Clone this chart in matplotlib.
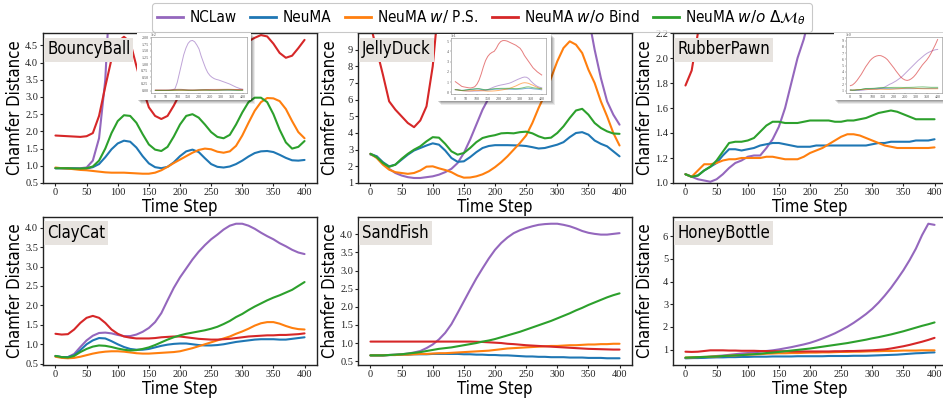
import numpy as np
import matplotlib
matplotlib.use("Agg")
import matplotlib.pyplot as plt
from matplotlib.patches import Rectangle
from matplotlib.lines import Line2D

plt.rcParams['font.family'] = ['Liberation Serif', 'DejaVu Serif']
plt.rcParams['mathtext.fontset'] = 'dejavusans'

# ---------------- data ----------------
steps = np.arange(0, 401, 10)

methods = ["NCLaw", "NeuMA", "NeuMA $\\it{w/}$ P.S.", "NeuMA $\\it{w/o}$ Bind",
           "NeuMA $\\it{w/o}$ $\\Delta\\mathcal{M}_\\theta$"]
colors = ["#9467bd", "#1f77b4", "#ff7f0e", "#d62728", "#2ca02c"]

# BouncyBall
bb_nclaw = [0.93, 0.93, 0.93, 0.93, 0.93, 0.95, 1.15, 1.8, 3.5, 7.0, 30, 65, 100, 135, 160, 178, 187, 189, 184, 172,
            157, 130, 107, 85, 68, 57, 50, 45, 42, 40, 37, 34, 31, 28, 25, 21, 17, 13, 10, 7, 5]
bb_neuma = [0.93, 0.93, 0.92, 0.92, 0.91, 0.92, 0.96, 1.05, 1.25, 1.48, 1.65, 1.73, 1.70, 1.53, 1.28, 1.07, 0.96, 0.93,
            0.97, 1.10, 1.28, 1.42, 1.47, 1.40, 1.22, 1.05, 0.97, 0.95, 0.98, 1.05, 1.15, 1.27, 1.37, 1.42, 1.43, 1.40,
            1.32, 1.23, 1.16, 1.15, 1.17]
bb_ps = [0.95, 0.93, 0.92, 0.90, 0.88, 0.87, 0.85, 0.83, 0.81, 0.80, 0.80, 0.80, 0.79, 0.78, 0.77, 0.77, 0.80, 0.87,
         0.97, 1.08, 1.18, 1.28, 1.38, 1.46, 1.50, 1.48, 1.41, 1.38, 1.42, 1.58, 1.88, 2.25, 2.60, 2.85, 2.97, 2.96,
         2.88, 2.65, 2.30, 1.98, 1.80]
bb_bind = [1.88, 1.87, 1.86, 1.85, 1.84, 1.86, 1.95, 2.45, 3.30, 4.10, 4.60, 4.75, 4.60, 3.90, 3.25, 2.70, 2.45, 2.36,
           2.45, 2.75, 3.10, 3.45, 3.75, 4.00, 4.20, 4.32, 4.40, 4.45, 4.50, 4.53, 4.56, 4.62, 4.72, 4.80, 4.76, 4.55,
           4.28, 4.14, 4.20, 4.42, 4.66]
bb_dm = [0.93, 0.93, 0.93, 0.92, 0.92, 0.93, 0.98, 1.15, 1.50, 1.95, 2.30, 2.47, 2.45, 2.25, 1.92, 1.62, 1.47, 1.43,
         1.55, 1.85, 2.20, 2.45, 2.50, 2.40, 2.20, 1.98, 1.84, 1.80, 1.90, 2.20, 2.55, 2.85, 2.98, 2.98, 2.85, 2.50,
         2.05, 1.68, 1.50, 1.55, 1.72]

# JellyDuck
jd_nclaw = [2.7, 2.6, 2.2, 1.85, 1.6, 1.45, 1.35, 1.3, 1.3, 1.35, 1.4, 1.5, 1.65, 1.85, 2.2, 2.8, 3.6, 4.5, 5.4, 6.1,
            6.7, 7.2, 7.6, 8.0, 8.5, 9.0, 9.8, 10.8, 11.8, 12.8, 13.6, 14.5, 15.0, 14.8, 13.5, 11.0, 9.0, 7.3, 5.9,
            5.1, 4.5]
jd_neuma = [2.75, 2.6, 2.25, 2.0, 2.1, 2.4, 2.7, 2.95, 3.1, 3.25, 3.38, 3.3, 2.95, 2.5, 2.27, 2.3, 2.55, 2.85, 3.1,
            3.22, 3.27, 3.27, 3.27, 3.26, 3.25, 3.22, 3.15, 3.07, 3.1, 3.2, 3.3, 3.45, 3.75, 4.0, 4.05, 3.9, 3.55, 3.35,
            3.2, 2.9, 2.6]
jd_ps = [2.75, 2.5, 2.1, 1.8, 1.65, 1.6, 1.55, 1.6, 1.75, 1.98, 2.0, 1.88, 1.78, 1.65, 1.45, 1.32, 1.33, 1.4, 1.52,
         1.7, 1.95, 2.25, 2.6, 3.0, 3.4, 3.85, 4.6, 5.5, 6.3, 7.3, 8.3, 9.1, 9.5, 9.3, 8.8, 7.8, 7.0, 5.9, 5.0, 4.0,
         3.25]
jd_bind = [10.5, 9.0, 7.5, 5.9, 5.4, 5.0, 4.6, 4.35, 4.75, 5.6, 8.0, 12, 18, 25, 31, 35, 37.5, 39, 40, 43, 47, 49.5,
           50.5, 50.5, 50, 49, 48, 47, 46, 44.5, 43, 40, 36, 33, 30, 27, 24, 22, 20, 18.5, 17]
jd_dm = [2.75, 2.55, 2.2, 1.97, 2.1, 2.45, 2.75, 3.0, 3.2, 3.5, 3.75, 3.72, 3.35, 2.9, 2.7, 2.8, 3.1, 3.45, 3.7, 3.8,
         3.87, 3.98, 4.0, 3.98, 4.05, 4.08, 3.98, 3.8, 3.68, 3.72, 4.0, 4.4, 4.9, 5.35, 5.45, 5.1, 4.6, 4.3, 4.1, 3.97,
         3.95]

# RubberPawn
rp_nclaw = [1.07, 1.05, 1.03, 1.02, 1.01, 1.03, 1.07, 1.12, 1.16, 1.18, 1.21, 1.22, 1.22, 1.28, 1.35, 1.45, 1.60, 1.80,
            2.00, 2.15, 2.35, 2.55, 2.80, 3.05, 3.35, 3.70, 4.05, 4.40, 4.75, 5.10, 5.45, 5.80, 6.10, 6.40, 6.70, 6.95,
            7.15, 7.30, 7.45, 7.55, 7.60]
rp_neuma = [1.07, 1.05, 1.06, 1.10, 1.13, 1.16, 1.22, 1.27, 1.27, 1.26, 1.27, 1.28, 1.30, 1.31, 1.32, 1.32, 1.31, 1.30,
            1.29, 1.29, 1.29, 1.30, 1.30, 1.30, 1.30, 1.30, 1.30, 1.30, 1.30, 1.30, 1.31, 1.32, 1.32, 1.33, 1.33, 1.33,
            1.33, 1.34, 1.34, 1.34, 1.35]
rp_ps = [1.07, 1.05, 1.10, 1.15, 1.15, 1.16, 1.18, 1.19, 1.19, 1.20, 1.20, 1.20, 1.20, 1.21, 1.21, 1.20, 1.19, 1.19,
         1.19, 1.21, 1.24, 1.26, 1.28, 1.31, 1.34, 1.37, 1.39, 1.39, 1.38, 1.36, 1.34, 1.32, 1.30, 1.29, 1.28, 1.28,
         1.28, 1.28, 1.28, 1.28, 1.285]
rp_bind = [1.78, 1.90, 2.20, 2.60, 3.10, 3.60, 4.20, 4.80, 5.30, 5.80, 6.15, 6.40, 6.55, 6.62, 6.60, 6.45, 6.25, 5.95,
           5.50, 5.05, 4.60, 4.10, 3.65, 3.20, 2.90, 2.70, 2.62, 2.70, 2.90, 3.20, 3.60, 4.10, 4.60, 5.10, 5.50, 5.90,
           6.40, 7.00, 7.70, 8.40, 9.20]
rp_dm = [1.07, 1.05, 1.06, 1.10, 1.13, 1.18, 1.25, 1.32, 1.33, 1.33, 1.34, 1.36, 1.41, 1.46, 1.49, 1.49, 1.48, 1.48,
         1.48, 1.49, 1.50, 1.50, 1.50, 1.50, 1.49, 1.49, 1.50, 1.50, 1.51, 1.52, 1.54, 1.56, 1.57, 1.58, 1.57, 1.55,
         1.53, 1.51, 1.51, 1.51, 1.51]

# ClayCat
cc_nclaw = [0.69, 0.67, 0.67, 0.75, 0.93, 1.10, 1.22, 1.29, 1.30, 1.28, 1.24, 1.21, 1.21, 1.25, 1.32, 1.42, 1.57, 1.80,
            2.13, 2.45, 2.72, 2.95, 3.18, 3.38, 3.55, 3.70, 3.82, 3.95, 4.05, 4.10, 4.10, 4.05, 3.97, 3.87, 3.78, 3.70,
            3.60, 3.52, 3.43, 3.36, 3.32]
cc_neuma = [0.70, 0.67, 0.67, 0.72, 0.85, 1.00, 1.10, 1.16, 1.15, 1.08, 1.00, 0.93, 0.88, 0.86, 0.86, 0.88, 0.92, 0.96,
            0.99, 1.01, 1.02, 1.02, 1.00, 0.98, 0.97, 0.97, 0.98, 1.00, 1.03, 1.06, 1.08, 1.10, 1.12, 1.13, 1.13, 1.13,
            1.12, 1.12, 1.14, 1.16, 1.18]
cc_ps = [0.68, 0.65, 0.64, 0.65, 0.68, 0.72, 0.76, 0.79, 0.81, 0.82, 0.82, 0.81, 0.79, 0.77, 0.76, 0.76, 0.77, 0.78,
         0.79, 0.80, 0.82, 0.86, 0.90, 0.95, 1.00, 1.05, 1.10, 1.15, 1.20, 1.27, 1.33, 1.40, 1.48, 1.54, 1.57, 1.57,
         1.53, 1.47, 1.42, 1.39, 1.38]
cc_bind = [1.27, 1.25, 1.26, 1.38, 1.55, 1.68, 1.73, 1.68, 1.55, 1.38, 1.27, 1.20, 1.17, 1.15, 1.15, 1.15, 1.16, 1.18,
           1.19, 1.20, 1.20, 1.18, 1.16, 1.14, 1.13, 1.12, 1.12, 1.13, 1.14, 1.16, 1.18, 1.20, 1.21, 1.22, 1.23, 1.23,
           1.24, 1.24, 1.25, 1.26, 1.28]
cc_dm = [0.70, 0.67, 0.66, 0.70, 0.80, 0.88, 0.94, 0.97, 0.96, 0.93, 0.89, 0.86, 0.84, 0.85, 0.88, 0.92, 0.98, 1.05,
         1.12, 1.18, 1.23, 1.27, 1.30, 1.33, 1.36, 1.40, 1.45, 1.52, 1.60, 1.70, 1.78, 1.88, 1.97, 2.05, 2.13, 2.20,
         2.26, 2.33, 2.40, 2.50, 2.60]

# SandFish
sf_nclaw = [0.66, 0.66, 0.66, 0.67, 0.68, 0.69, 0.71, 0.74, 0.78, 0.86, 0.96, 1.10, 1.28, 1.52, 1.83, 2.15, 2.47, 2.78,
            3.06, 3.33, 3.57, 3.76, 3.91, 4.03, 4.11, 4.17, 4.22, 4.26, 4.28, 4.29, 4.29, 4.26, 4.22, 4.16, 4.09, 4.04,
            4.01, 3.99, 3.99, 4.01, 4.03]
sf_neuma = [0.66, 0.66, 0.66, 0.67, 0.67, 0.68, 0.68, 0.69, 0.69, 0.69, 0.70, 0.70, 0.70, 0.70, 0.70, 0.69, 0.69, 0.68,
            0.68, 0.67, 0.67, 0.66, 0.66, 0.65, 0.64, 0.63, 0.63, 0.62, 0.62, 0.61, 0.61, 0.61, 0.60, 0.60, 0.60, 0.59,
            0.59, 0.59, 0.58, 0.58, 0.58]
sf_ps = [0.66, 0.66, 0.66, 0.67, 0.67, 0.68, 0.68, 0.69, 0.70, 0.70, 0.71, 0.72, 0.72, 0.73, 0.74, 0.75, 0.76, 0.77,
         0.78, 0.79, 0.81, 0.83, 0.85, 0.86, 0.87, 0.88, 0.89, 0.90, 0.91, 0.92, 0.92, 0.93, 0.94, 0.94, 0.95, 0.96,
         0.96, 0.97, 0.97, 0.98, 0.98]
sf_bind = [1.04, 1.04, 1.04, 1.04, 1.04, 1.04, 1.04, 1.04, 1.04, 1.04, 1.04, 1.04, 1.04, 1.04, 1.04, 1.04, 1.04, 1.035,
           1.03, 1.02, 1.01, 1.00, 0.98, 0.97, 0.955, 0.94, 0.93, 0.92, 0.91, 0.90, 0.89, 0.88, 0.87, 0.86, 0.85, 0.84,
           0.835, 0.83, 0.825, 0.82, 0.82]
sf_dm = [0.66, 0.66, 0.66, 0.67, 0.68, 0.69, 0.71, 0.73, 0.75, 0.78, 0.81, 0.84, 0.86, 0.88, 0.91, 0.94, 0.97, 1.00,
         1.04, 1.07, 1.11, 1.16, 1.21, 1.26, 1.31, 1.37, 1.43, 1.49, 1.55, 1.61, 1.68, 1.75, 1.82, 1.90, 1.97, 2.05,
         2.12, 2.19, 2.26, 2.32, 2.37]

# HoneyBottle
hb_nclaw = [0.63, 0.63, 0.64, 0.66, 0.69, 0.72, 0.74, 0.77, 0.80, 0.83, 0.85, 0.88, 0.91, 0.94, 0.97, 1.01, 1.06, 1.11,
            1.17, 1.23, 1.30, 1.39, 1.49, 1.60, 1.72, 1.86, 2.01, 2.18, 2.37, 2.57, 2.80, 3.07, 3.38, 3.72, 4.10, 4.50,
            4.95, 5.45, 6.05, 6.55, 6.50]
hb_neuma = [0.62, 0.63, 0.63, 0.64, 0.65, 0.66, 0.66, 0.67, 0.67, 0.68, 0.68, 0.69, 0.69, 0.69, 0.70, 0.70, 0.70, 0.70,
            0.71, 0.71, 0.71, 0.71, 0.71, 0.72, 0.72, 0.72, 0.72, 0.73, 0.73, 0.73, 0.74, 0.75, 0.76, 0.77, 0.78, 0.80,
            0.82, 0.84, 0.85, 0.87, 0.88]
hb_ps = [0.65, 0.66, 0.67, 0.68, 0.69, 0.70, 0.72, 0.73, 0.75, 0.76, 0.78, 0.79, 0.80, 0.82, 0.83, 0.84, 0.84, 0.85,
         0.85, 0.86, 0.87, 0.87, 0.88, 0.88, 0.89, 0.90, 0.90, 0.91, 0.91, 0.92, 0.93, 0.93, 0.94, 0.94, 0.95, 0.96,
         0.96, 0.96, 0.97, 0.97, 0.97]
hb_bind = [0.91, 0.90, 0.91, 0.94, 0.97, 0.97, 0.97, 0.96, 0.96, 0.95, 0.95, 0.95, 0.94, 0.94, 0.93, 0.93, 0.93, 0.92,
           0.92, 0.92, 0.92, 0.92, 0.92, 0.92, 0.93, 0.93, 0.94, 0.94, 0.95, 0.96, 0.97, 0.99, 1.01, 1.05, 1.10, 1.15,
           1.21, 1.28, 1.35, 1.43, 1.52]
hb_dm = [0.65, 0.66, 0.67, 0.68, 0.69, 0.70, 0.72, 0.73, 0.75, 0.76, 0.78, 0.80, 0.82, 0.85, 0.87, 0.90, 0.93, 0.96,
         0.99, 1.02, 1.05, 1.09, 1.13, 1.17, 1.21, 1.25, 1.29, 1.34, 1.39, 1.44, 1.50, 1.55, 1.61, 1.67, 1.74, 1.81,
         1.89, 1.97, 2.05, 2.12, 2.20]

panel_names = ["BouncyBall", "JellyDuck", "RubberPawn", "ClayCat", "SandFish", "HoneyBottle"]
panel_series = [
    [bb_nclaw, bb_neuma, bb_ps, bb_bind, bb_dm],
    [jd_nclaw, jd_neuma, jd_ps, jd_bind, jd_dm],
    [rp_nclaw, rp_neuma, rp_ps, rp_bind, rp_dm],
    [cc_nclaw, cc_neuma, cc_ps, cc_bind, cc_dm],
    [sf_nclaw, sf_neuma, sf_ps, sf_bind, sf_dm],
    [hb_nclaw, hb_neuma, hb_ps, hb_bind, hb_dm],
]
panel_ylims = [(0.5, 4.86), (1.0, 10.0), (1.0, 2.2), None, None, None]
panel_yticks = [np.arange(0.5, 4.51, 0.5), np.arange(1, 10, 1), np.arange(1.0, 2.21, 0.2),
                np.arange(0.5, 4.01, 0.5), np.arange(0.5, 4.01, 0.5), np.arange(1, 7, 1)]
panel_yfmt = ["%.1f", "%d", "%.1f", "%.1f", "%.1f", "%d"]
xticks = np.arange(0, 401, 50)

# insets (top row): scale factor, offset label, y ticks, y limits
inset_scale = {0: 100.0, 1: 10.0, 2: 1.0}
inset_label = {0: "1e2", 1: "1e1", 2: "1e0"}
inset_yticks = {0: np.arange(0, 2.01, 0.25), 1: np.arange(0, 6, 1), 2: np.arange(1, 10, 1)}
inset_ylims = {0: (-0.09, 2.02), 1: (-0.15, 5.3), 2: (0.6, 9.6)}

# ---------------- layout (pixels) ----------------
W, H = 943, 400
fig = plt.figure(figsize=(W / 100, H / 100), dpi=100)

def fr(x0, y0, x1, y1):
    return [x0 / W, 1 - y1 / H, (x1 - x0) / W, (y1 - y0) / H]

axes_px = [(43, 33, 317, 183), (358, 33, 632, 183), (673, 33, 947, 183),
           (43, 217, 317, 365), (358, 217, 632, 365), (673, 217, 947, 365)]
inset_box_px = {0: (137, 33, 251, 100), 1: (437, 34, 551, 101), 2: (834, 33, 948, 100)}
inset_ax_px = {0: (151, 37, 247, 93), 1: (451, 38, 546, 94), 2: (846, 37, 942, 93)}

sans = ["DejaVu Sans Condensed", "DejaVu Sans"]
sans_kw = dict(family=sans, stretch="condensed")
serif = "Liberation Serif"

for i, (name, series) in enumerate(zip(panel_names, panel_series)):
    x0, y0, x1, y1 = axes_px[i]
    ax = fig.add_axes(fr(*axes_px[i]))
    for s, c in zip(series, colors):
        ax.plot(steps, s, color=c, lw=1.5, solid_capstyle="round")
    ax.set_xlim(-20, 420)
    if panel_ylims[i] is not None:
        ax.set_ylim(*panel_ylims[i])
    ax.set_xticks(xticks)
    ax.set_yticks(panel_yticks[i])
    ax.set_yticklabels([panel_yfmt[i] % v for v in panel_yticks[i]])
    ax.tick_params(direction="out", length=2.5, width=0.8, pad=1.0, colors="#222222", labelsize=7.5,
                   labelfontfamily=serif)
    for sp in ax.spines.values():
        sp.set_linewidth(1.0)
        sp.set_color("#222222")
    ax.set_xlabel("Time Step", fontsize=12, labelpad=0.5, **sans_kw)
    ax.set_ylabel("Chamfer Distance", fontsize=12, va="bottom", **sans_kw)
    ax.yaxis.set_label_coords(-19.0 / (x1 - x0), 0.5)
    ax.text(0.015, 0.95, name, transform=ax.transAxes, fontsize=12, va="top", ha="left", zorder=10,
            bbox=dict(boxstyle="square,pad=0.18", fc="#e7e3df", ec="none"), **sans_kw)

    if i in inset_scale:
        bx = inset_box_px[i]
        # soft drop shadow
        for k, a in [(4, 0.08), (3, 0.10), (2, 0.12), (1, 0.14)]:
            sh = Rectangle(((bx[0] + k) / W, 1 - (bx[3] + k) / H), (bx[2] - bx[0]) / W, (bx[3] - bx[1]) / H,
                           transform=fig.transFigure, fc="black", ec="none", alpha=a, zorder=3)
            fig.add_artist(sh)
        rect = Rectangle((bx[0] / W, 1 - bx[3] / H), (bx[2] - bx[0]) / W, (bx[3] - bx[1]) / H,
                         transform=fig.transFigure, fc="white", ec="none", zorder=3.5)
        fig.add_artist(rect)
        iax = fig.add_axes(fr(*inset_ax_px[i]))
        iax.set_zorder(4)
        sc = inset_scale[i]
        for s, c in zip(series, colors):
            iax.plot(steps, np.array(s) / sc, color=c, lw=0.7, alpha=0.6)
        iax.set_xlim(-20, 420)
        iax.set_ylim(*inset_ylims[i])
        iax.set_xticks(xticks)
        iax.set_yticks(inset_yticks[i])
        if i == 0:
            iax.set_yticklabels(["%.2f" % v for v in inset_yticks[i]])
        iax.tick_params(length=1, width=0.3, pad=0.8, colors="#555555", labelsize=3, labelfontfamily=serif)
        for sp in iax.spines.values():
            sp.set_linewidth(0.4)
            sp.set_color("#888888")
        iax.text(0.0, 1.0, inset_label[i], transform=iax.transAxes, fontsize=3, va="bottom", ha="left",
                 color="#555555", family=serif)

handles = [Line2D([0], [0], color=c, lw=2) for c in colors]
leg = fig.legend(handles, methods, loc="upper center", bbox_to_anchor=(0.511, 1.012), ncol=5,
                 prop=dict(family=sans, stretch="condensed", size=11), handlelength=1.7, handletextpad=0.4,
                 columnspacing=0.9, borderpad=0.35, frameon=True, fancybox=True)
leg.get_frame().set_edgecolor("#bbbbbb")
leg.get_frame().set_linewidth(0.8)

fig.savefig("out.png", dpi=100)
